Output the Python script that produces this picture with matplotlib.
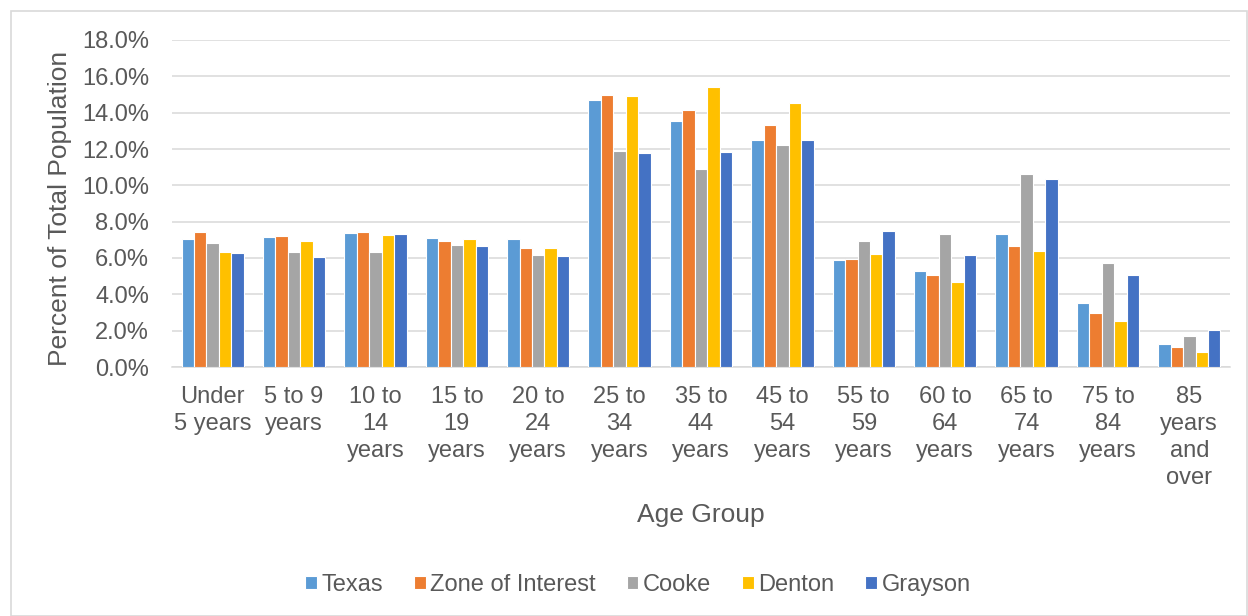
import matplotlib
matplotlib.use("Agg")
import matplotlib.pyplot as plt
import numpy as np
from matplotlib.patches import Rectangle
from matplotlib.ticker import FuncFormatter

plt.rcParams['font.family'] = ['Liberation Sans', 'DejaVu Sans']

categories = ["Under\n5 years", "5 to 9\nyears", "10 to\n14\nyears", "15 to\n19\nyears",
              "20 to\n24\nyears", "25 to\n34\nyears", "35 to\n44\nyears", "45 to\n54\nyears",
              "55 to\n59\nyears", "60 to\n64\nyears", "65 to\n74\nyears", "75 to\n84\nyears",
              "85\nyears\nand\nover"]

series_names = ["Texas", "Zone of Interest", "Cooke", "Denton", "Grayson"]
texas = [7.03, 7.13, 7.37, 7.11, 7.03, 14.70, 13.52, 12.47, 5.89, 5.27, 7.33, 3.52, 1.29]
zone = [7.44, 7.20, 7.44, 6.92, 6.57, 14.99, 14.13, 13.30, 5.97, 5.05, 6.65, 2.96, 1.09]
cooke = [6.80, 6.32, 6.35, 6.72, 6.17, 11.90, 10.90, 12.21, 6.91, 7.33, 10.63, 5.73, 1.73]
denton = [6.34, 6.96, 7.29, 7.07, 6.56, 14.90, 15.41, 14.53, 6.24, 4.66, 6.39, 2.52, 0.81]
grayson = [6.28, 6.08, 7.31, 6.65, 6.10, 11.80, 11.82, 12.50, 7.50, 6.17, 10.33, 5.06, 2.01]
series = [texas, zone, cooke, denton, grayson]
colors = ["#5B9BD5", "#ED7D31", "#A5A5A5", "#FFC000", "#4472C4"]

W, H = 1248, 616
fig = plt.figure(figsize=(W / 100, H / 100), dpi=100)
fig.patches.append(Rectangle((10.5 / W, 0), (W - 11.5) / W, 1 - 10.5 / H,
                             transform=fig.transFigure, fill=False,
                             edgecolor="#d9d9d9", linewidth=1.2))

ax = fig.add_axes([172 / W, 1 - 367 / H, (1230 - 172) / W, (367 - 40) / H])

x = np.arange(len(categories))
bw = 0.153
for i, (name, vals, c) in enumerate(zip(series_names, series, colors)):
    ax.bar(x + (i - 2) * bw, vals, width=bw, color=c, edgecolor="white",
           linewidth=0.8, label=name, zorder=3)

ax.set_xlim(-0.5, len(categories) - 0.5)
ax.set_ylim(0, 18)
ax.set_yticks(np.arange(0, 18.1, 2))
ax.yaxis.set_major_formatter(FuncFormatter(lambda v, p: f"{v:.1f}%"))
ax.set_xticks(x)
ax.set_xticklabels(categories, linespacing=1.3)
ax.grid(axis="y", color="#d9d9d9", linewidth=1.1, zorder=0)
ax.set_axisbelow(True)
for s in ["top", "right", "left"]:
    ax.spines[s].set_visible(False)
ax.spines["bottom"].set_color("#d9d9d9")
ax.spines["bottom"].set_linewidth(1.1)

tc = "#595959"
ax.tick_params(axis="both", length=0, labelsize=17, colors=tc)
ax.tick_params(axis="y", pad=16.5)
ax.tick_params(axis="x", pad=13.5)

fig.text(60 / W, 1 - 208 / H, "Percent of Total Population", rotation=90,
         ha="center", va="center", fontsize=19, color=tc)
fig.text(701 / W, 1 - 515 / H, "Age Group", ha="center", va="center",
         fontsize=19, color=tc)

leg = fig.legend(loc="center", bbox_to_anchor=(638 / W, 1 - 585 / H), ncol=5,
                 frameon=False, fontsize=17, handlelength=0.5, handleheight=0.5,
                 handletextpad=0.2, columnspacing=1.3, labelcolor=tc)

fig.savefig("out.png", dpi=100)
